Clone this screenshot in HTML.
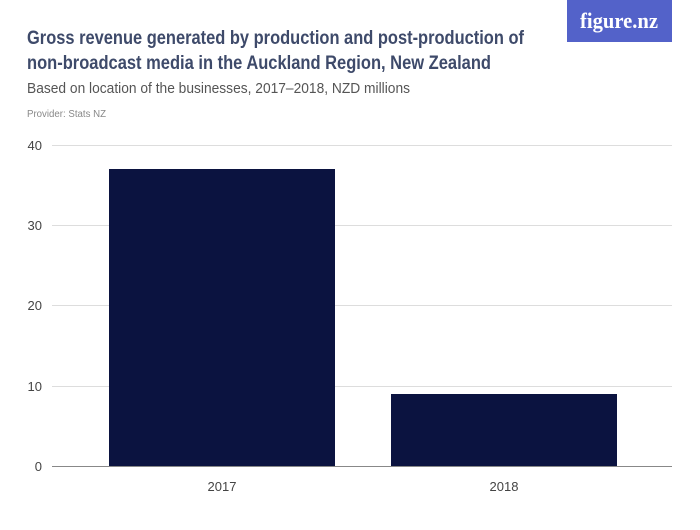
<!DOCTYPE html>
<html><head><meta charset="utf-8"><style>
body{margin:0;background:#fff;width:700px;height:525px;overflow:hidden}
</style></head><body>
<svg width="700" height="525" xmlns="http://www.w3.org/2000/svg" font-family="Liberation Sans, sans-serif">
<rect width="700" height="525" fill="#fff"/>
<rect x="567" y="0" width="105" height="42" fill="#5362c9"/>
<text x="619" y="28" fill="#fff" font-family="Liberation Serif, serif" font-size="22" font-weight="bold" text-anchor="middle" textLength="78" lengthAdjust="spacingAndGlyphs">figure.nz</text>
<text x="27" y="44" fill="#3e4a6a" font-size="19" font-weight="bold" textLength="497" lengthAdjust="spacingAndGlyphs">Gross revenue generated by production and post-production of</text>
<text x="27" y="69" fill="#3e4a6a" font-size="19" font-weight="bold" textLength="464" lengthAdjust="spacingAndGlyphs">non-broadcast media in the Auckland Region, New Zealand</text>
<text x="27" y="93" fill="#555" font-size="15" textLength="383" lengthAdjust="spacingAndGlyphs">Based on location of the businesses, 2017–2018, NZD millions</text>
<text x="27" y="117" fill="#888" font-size="10" textLength="79" lengthAdjust="spacingAndGlyphs">Provider: Stats NZ</text>
<g stroke="#ddd" stroke-width="1">
<line x1="52" y1="145.5" x2="672" y2="145.5"/>
<line x1="52" y1="225.5" x2="672" y2="225.5"/>
<line x1="52" y1="305.5" x2="672" y2="305.5"/>
<line x1="52" y1="386.5" x2="672" y2="386.5"/>
</g>
<g fill="#444" font-size="13" text-anchor="end">
<text x="42" y="150">40</text>
<text x="42" y="230">30</text>
<text x="42" y="310">20</text>
<text x="42" y="391">10</text>
<text x="42" y="471">0</text>
</g>
<rect x="109" y="169" width="226" height="297" fill="#0b1340"/>
<rect x="391" y="394" width="226" height="72" fill="#0b1340"/>
<line x1="52" y1="466.5" x2="672" y2="466.5" stroke="#888"/>
<g fill="#444" font-size="13" text-anchor="middle">
<text x="222" y="491">2017</text>
<text x="504" y="491">2018</text>
</g>
</svg>
</body></html>
